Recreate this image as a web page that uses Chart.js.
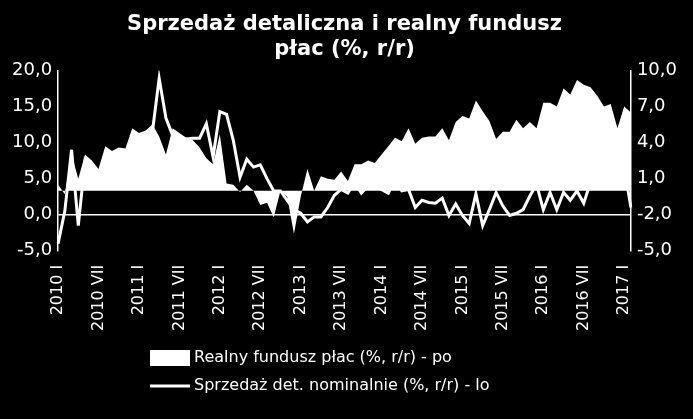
<!DOCTYPE html>
<html><head><meta charset="utf-8">
<script src="https://cdn.jsdelivr.net/npm/chart.js@4"></script>
<style>html,body{margin:0;padding:0;background:#000;}canvas{display:block;}</style>
</head><body>
<canvas id="c" width="693" height="419"></canvas>
<script>
const years = [2010,2011,2012,2013,2014,2015,2016,2017];
const romanMonths = ['I','II','III','IV','V','VI','VII','VIII','IX','X','XI','XII'];
const shownMonths = ['I','VII'];
const nMonths = 86;
const categories = [];
for (let i = 0; i < nMonths; i++) {
  const m = romanMonths[i % 12];
  const y = years[Math.floor(i / 12)];
  categories.push(shownMonths.includes(m) ? y + ' ' + m : '');
}
const salesNominal = [-4.0,0.5,9.0,-1.5,7.5,6.0,4.5,5.0,8.0,7.0,8.0,7.5,
  10.5,11.0,11.5,18.9,13.4,11.0,10.8,10.5,10.6,10.6,12.6,8.0,
  14.3,13.9,10.3,5.2,7.7,6.6,6.9,5.0,3.3,3.3,2.0,0.7,
  0.2,-1.0,-0.3,-0.3,1.0,2.7,3.5,3.0,4.5,3.0,4.0,4.5,
  3.5,3.0,5.0,3.3,3.5,1.0,2.0,1.7,1.6,2.3,-0.1,1.5,
  -0.1,-1.2,2.9,-1.5,0.7,3.1,1.2,-0.1,0.2,0.7,2.6,4.2,
  0.7,3.1,0.7,3.1,2.0,3.3,1.6,4.5,5.5,6.0,5.0,5.5,
  6.5,1.0];
const realWageFund = [0.5,-0.3,3.0,1.0,3.0,2.5,1.8,3.7,3.3,3.6,3.5,5.2,
  4.8,5.0,5.5,4.5,3.0,5.2,4.8,4.4,4.2,3.6,2.7,2.2,
  4.7,0.6,0.5,-0.1,0.5,0.0,-1.2,-1.0,-2.2,0.0,-0.5,-3.6,
  -0.5,1.8,0.0,1.2,1.0,0.9,1.6,0.8,2.2,2.2,2.5,2.3,
  3.0,3.7,4.4,4.1,5.2,3.9,4.4,4.5,4.5,5.2,4.2,5.7,
  6.2,6.0,7.5,6.6,5.8,4.3,4.9,4.9,5.9,5.2,5.7,5.2,
  7.3,7.3,7.0,8.5,8.0,9.2,8.8,8.6,7.9,7.0,7.2,5.2,
  7.0,6.5];
const labelWage = 'Realny fundusz płac (%, r/r) - po';
const labelSales = 'Sprzedaż det. nominalnie (%, r/r) - lo';
const titleLines = ['Sprzedaż detaliczna i realny fundusz', 'płac (%, r/r)'];

const fnt = "'DejaVu Sans', sans-serif";
const fmt = v => v.toFixed(1).replace('.', ',');
const zeroGrid = ctx => ctx.tick && ctx.tick.value === 0 ? '#ffffff' : 'rgba(0,0,0,0)';

const legendPlugin = {
  id: 'stackedLegend',
  afterDraw(chart) {
    const ctx = chart.ctx;
    ctx.save();
    ctx.fillStyle = '#ffffff'; ctx.strokeStyle = '#ffffff';
    ctx.font = "16px 'DejaVu Sans', sans-serif";
    ctx.textBaseline = 'middle';
    const x0 = 150, y1 = 358, y2 = 386;
    ctx.fillRect(x0, y1 - 8, 40, 16);
    ctx.fillText(chart.data.datasets[0].label, x0 + 44, y1);
    ctx.lineWidth = 3;
    ctx.beginPath(); ctx.moveTo(x0, y2); ctx.lineTo(x0 + 40, y2); ctx.stroke();
    ctx.fillText(chart.data.datasets[1].label, x0 + 44, y2);
    ctx.restore();
  }
};

new Chart(document.getElementById('c'), {
  type: 'line',
  data: {
    labels: categories,
    datasets: [
      { label: labelWage, data: realWageFund, yAxisID: 'y1', fill: 'origin',
        backgroundColor: '#ffffff', borderColor: '#ffffff', borderWidth: 0,
        pointRadius: 0, tension: 0 },
      { label: labelSales, data: salesNominal, yAxisID: 'y', fill: false,
        borderColor: '#ffffff', backgroundColor: '#ffffff', borderWidth: 3,
        pointRadius: 0, tension: 0 }
    ]
  },
  options: {
    responsive: false, animation: false, devicePixelRatio: 1,
    layout: { padding: { left: 6, right: 10, top: 0, bottom: 82 } },
    plugins: {
      title: { display: true, text: titleLines, color: '#ffffff',
        font: { family: fnt, size: 21, weight: 'bold' }, padding: { top: 12, bottom: 8 }, lineHeight: 1.3 },
      legend: { display: false },
      tooltip: { enabled: false }
    },
    scales: {
      x: { grid: { display: false }, border: { display: false },
        ticks: { color: '#ffffff', autoSkip: false, maxRotation: 90, minRotation: 90,
          font: { family: fnt, size: 16 }, padding: 6 } },
      y: { position: 'left', min: -5, max: 20,
        ticks: { stepSize: 5, color: '#ffffff', callback: fmt, font: { family: fnt, size: 18 }, padding: 6 },
        grid: { color: zeroGrid, lineWidth: 1.5, drawTicks: false },
        border: { display: true, color: '#ffffff', width: 1.5 } },
      y1: { position: 'right', min: -5, max: 10,
        ticks: { stepSize: 3, color: '#ffffff', callback: fmt, font: { family: fnt, size: 18 }, padding: 6 },
        grid: { color: zeroGrid, lineWidth: 1.5, drawTicks: false },
        border: { display: true, color: '#ffffff', width: 1.5 } }
    }
  },
  plugins: [legendPlugin]
});
</script>
</body></html>
